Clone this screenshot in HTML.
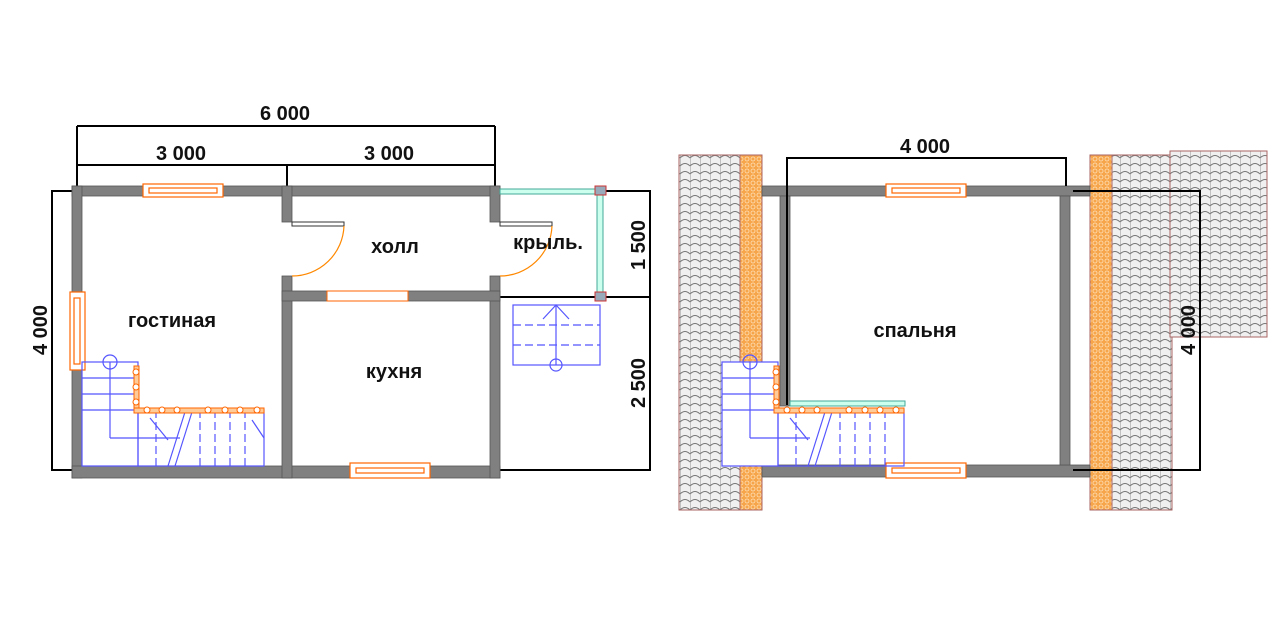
<!DOCTYPE html>
<html><head><meta charset="utf-8"><style>
html,body{margin:0;padding:0;background:#fff;}
svg{display:block;font-family:"Liberation Sans","DejaVu Sans",sans-serif;}
</style></head><body>
<svg width="1280" height="640" viewBox="0 0 1280 640" xmlns="http://www.w3.org/2000/svg">
<defs>
<pattern id="tile" width="10" height="8" patternUnits="userSpaceOnUse">
<rect width="10" height="8" fill="#f0f0f0"/>
<path d="M0 6 Q5 1 10 6" fill="none" stroke="#777" stroke-width="0.9"/>
<line x1="0" y1="0" x2="0" y2="8" stroke="#888" stroke-width="0.9"/>
</pattern>
<pattern id="ins" width="6" height="6" patternUnits="userSpaceOnUse">
<rect width="6" height="6" fill="#f7a54a"/>
<circle cx="3" cy="3" r="2" fill="none" stroke="#fde0b8" stroke-width="0.8"/>
</pattern>
</defs>

<!-- ========== LEFT PLAN ========== -->
<g stroke="#000" stroke-width="2" fill="none">
<line x1="77" y1="126" x2="495" y2="126"/>
<line x1="77" y1="126" x2="77" y2="186"/>
<line x1="495" y1="126" x2="495" y2="186"/>
<line x1="77" y1="165" x2="495" y2="165"/>
<line x1="287" y1="165" x2="287" y2="186"/>
<polyline points="72,191 52,191 52,470 72,470"/>
<polyline points="500,191 650,191 650,470 500,470"/>
<line x1="500" y1="297" x2="650" y2="297"/>
</g>
<g font-size="20" font-weight="bold" fill="#111" text-anchor="middle">
<text x="285" y="120">6 000</text>
<text x="181" y="160">3 000</text>
<text x="389" y="160">3 000</text>
<text transform="translate(47,330) rotate(-90)">4 000</text>
<text transform="translate(645,245) rotate(-90)">1 500</text>
<text transform="translate(645,383) rotate(-90)">2 500</text>
</g>

<g fill="#808080" stroke="#555" stroke-width="0.8">
<rect x="72" y="186" width="428" height="10"/>
<rect x="72" y="186" width="10" height="106"/>
<rect x="72" y="370" width="10" height="108"/>
<rect x="72" y="466" width="428" height="12"/>
<rect x="282" y="186" width="10" height="36"/>
<rect x="282" y="276" width="10" height="202"/>
<rect x="490" y="186" width="10" height="36"/>
<rect x="490" y="276" width="10" height="202"/>
<rect x="282" y="291" width="45" height="10"/>
<rect x="408" y="291" width="92" height="10"/>
</g>
<!-- opening -->
<rect x="327" y="291" width="81" height="10" fill="#fff" stroke="#f60" stroke-width="1"/>
<!-- windows -->
<g fill="#fff" stroke="#f60" stroke-width="1.2">
<rect x="143" y="184" width="80" height="13"/><rect x="149" y="188" width="68" height="5"/>
<rect x="350" y="463" width="80" height="15"/><rect x="356" y="468" width="68" height="5"/>
<rect x="70" y="292" width="15" height="78"/><rect x="74" y="298" width="6" height="66"/>
</g>
<!-- doors -->
<g fill="#fff" stroke="#333" stroke-width="1">
<rect x="292" y="222" width="52" height="4"/>
<rect x="500" y="222" width="52" height="4"/>
</g>
<g fill="none" stroke="#f80" stroke-width="1.2">
<path d="M344 226 A52 52 0 0 1 292 276"/>
<path d="M552 226 A52 52 0 0 1 500 276"/>
</g>
<!-- porch glass -->
<g fill="#cfe" stroke="#4a9" stroke-width="1">
<rect x="500" y="189" width="100" height="5"/>
<rect x="597" y="190" width="6" height="107"/>
</g>
<rect x="595" y="186" width="11" height="9" fill="#9ab" stroke="#c33"/>
<rect x="595" y="292" width="11" height="9" fill="#9ab" stroke="#c33"/>
<!-- porch stairs -->
<g fill="none" stroke="#55f" stroke-width="1.2">
<rect x="513" y="305" width="87" height="60"/>
<line x1="513" y1="325" x2="600" y2="325" stroke-dasharray="8 4"/>
<line x1="513" y1="345" x2="600" y2="345" stroke-dasharray="8 4"/>
<line x1="556" y1="305" x2="556" y2="365"/>
<polyline points="543,319 556,305 569,319"/>
<circle cx="556" cy="365" r="6"/>
</g>
<!-- left stairs -->
<g fill="none" stroke="#55f" stroke-width="1.2">
<rect x="82" y="362" width="56" height="104"/>
<line x1="82" y1="378" x2="138" y2="378"/>
<line x1="82" y1="394" x2="138" y2="394"/>
<line x1="82" y1="410" x2="138" y2="410"/>
<line x1="110" y1="362" x2="110" y2="438"/>
<line x1="110" y1="438" x2="180" y2="438"/>
<circle cx="110" cy="362" r="7"/>
<rect x="138" y="410" width="126" height="56"/>
<line x1="156" y1="410" x2="156" y2="466" stroke-dasharray="8 4"/>
<line x1="200" y1="410" x2="200" y2="466" stroke-dasharray="8 4"/>
<line x1="215" y1="410" x2="215" y2="466" stroke-dasharray="8 4"/>
<line x1="230" y1="410" x2="230" y2="466" stroke-dasharray="8 4"/>
<line x1="245" y1="410" x2="245" y2="466" stroke-dasharray="8 4"/>
<line x1="185" y1="412" x2="168" y2="466"/>
<line x1="192" y1="412" x2="175" y2="466"/>
<line x1="150" y1="418" x2="168" y2="440"/>
<line x1="252" y1="420" x2="264" y2="438"/>
</g>
<g fill="#fff" stroke="#f60" stroke-width="1">
<rect x="134" y="366" width="5" height="44" fill="#fc9"/>
<rect x="134" y="408" width="130" height="5" fill="#fc9"/>
<circle cx="136" cy="372" r="3"/><circle cx="136" cy="387" r="3"/><circle cx="136" cy="402" r="3"/>
<circle cx="147" cy="410" r="3"/><circle cx="162" cy="410" r="3"/><circle cx="177" cy="410" r="3"/>
<circle cx="208" cy="410" r="3"/><circle cx="225" cy="410" r="3"/><circle cx="240" cy="410" r="3"/><circle cx="257" cy="410" r="3"/>
</g>
<g font-size="20" font-weight="bold" fill="#111" text-anchor="middle">
<text x="172" y="327">гостиная</text>
<text x="395" y="253">холл</text>
<text x="548" y="249">крыль.</text>
<text x="394" y="378">кухня</text>
</g>

<!-- ========== RIGHT PLAN ========== -->
<rect x="679" y="155" width="61" height="355" fill="url(#tile)" stroke="#a66" stroke-width="1"/>
<rect x="740" y="155" width="22" height="355" fill="url(#ins)" stroke="#a66" stroke-width="1"/>
<rect x="1090" y="155" width="22" height="355" fill="url(#ins)" stroke="#a66" stroke-width="1"/>
<rect x="1112" y="155" width="60" height="355" fill="url(#tile)" stroke="#a66" stroke-width="1"/>
<rect x="1170" y="151" width="97" height="186" fill="url(#tile)" stroke="#a66" stroke-width="1"/>

<g fill="#808080" stroke="#555" stroke-width="0.8">
<rect x="762" y="186" width="328" height="10"/>
<rect x="762" y="465" width="328" height="12"/>
<rect x="780" y="196" width="10" height="210"/>
<rect x="1060" y="196" width="10" height="269"/>
</g>
<g fill="#fff" stroke="#f60" stroke-width="1.2">
<rect x="886" y="184" width="80" height="13"/><rect x="892" y="188" width="68" height="5"/>
<rect x="886" y="463" width="80" height="15"/><rect x="892" y="468" width="68" height="5"/>
</g>
<g stroke="#000" stroke-width="2" fill="none">
<polyline points="787,405 787,158 1066,158 1066,186"/>
<polyline points="1073,191 1200,191 1200,470 1073,470"/>
</g>
<g font-size="20" font-weight="bold" fill="#111" text-anchor="middle">
<text x="925" y="153">4 000</text>
<text transform="translate(1195,330) rotate(-90)">4 000</text>
<text x="915" y="337">спальня</text>
</g>
<rect x="790" y="401" width="115" height="5" fill="#cfe" stroke="#4a9"/>
<g fill="none" stroke="#55f" stroke-width="1.2">
<rect x="722" y="362" width="56" height="104" fill="#fff"/>
<line x1="722" y1="378" x2="778" y2="378"/>
<line x1="722" y1="394" x2="778" y2="394"/>
<line x1="722" y1="410" x2="778" y2="410"/>
<line x1="750" y1="362" x2="750" y2="438"/>
<line x1="750" y1="438" x2="810" y2="438"/>
<circle cx="750" cy="362" r="7"/>
<rect x="778" y="410" width="126" height="56"/>
<line x1="796" y1="410" x2="796" y2="466" stroke-dasharray="8 4"/>
<line x1="840" y1="410" x2="840" y2="466" stroke-dasharray="8 4"/>
<line x1="855" y1="410" x2="855" y2="466" stroke-dasharray="8 4"/>
<line x1="870" y1="410" x2="870" y2="466" stroke-dasharray="8 4"/>
<line x1="885" y1="410" x2="885" y2="466" stroke-dasharray="8 4"/>
<line x1="825" y1="412" x2="808" y2="466"/>
<line x1="832" y1="412" x2="815" y2="466"/>
<line x1="790" y1="418" x2="808" y2="440"/>
</g>
<g fill="#fff" stroke="#f60" stroke-width="1">
<rect x="774" y="366" width="5" height="44" fill="#fc9"/>
<rect x="774" y="408" width="130" height="5" fill="#fc9"/>
<circle cx="776" cy="372" r="3"/><circle cx="776" cy="387" r="3"/><circle cx="776" cy="402" r="3"/>
<circle cx="787" cy="410" r="3"/><circle cx="802" cy="410" r="3"/><circle cx="817" cy="410" r="3"/>
<circle cx="849" cy="410" r="3"/><circle cx="865" cy="410" r="3"/><circle cx="880" cy="410" r="3"/><circle cx="896" cy="410" r="3"/>
</g>
</svg>
</body></html>
